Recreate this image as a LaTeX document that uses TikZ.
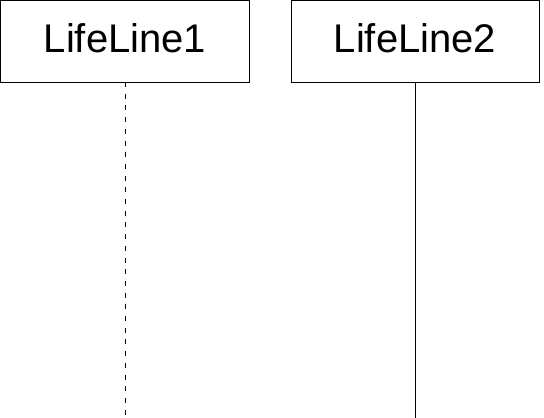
\documentclass[tikz,border=0pt]{standalone}
\usepackage{fontspec}
\setmainfont{Liberation Sans}
\begin{document}
\begin{tikzpicture}[x=1pt,y=-1pt,
  headbox/.style={draw=black,line width=1pt,fill=white},
  headtext/.style={font=\fontsize{40}{48}\selectfont,anchor=base,inner sep=0pt},
  lifeline/.style={draw=black,line width=1pt}]
\useasboundingbox (0,0) rectangle (544,418);
\path[headbox] (0.5,0.5) rectangle (249,82);
\path[headbox] (291,0.5) rectangle (539,82);
\node[headtext] (t1) at (125,52) {LifeLine1};
\node[headtext] (t2) at (415,52) {LifeLine2};
\coordinate (a1) at (125,82);
\coordinate (b1) at (125,418);
\coordinate (a2) at (415,82);
\coordinate (b2) at (415,418);
\draw[lifeline,dash pattern=on 5pt off 6.7pt] (a1) -- (b1);
\draw[lifeline] (a2) -- (b2);
\end{tikzpicture}
\end{document}
